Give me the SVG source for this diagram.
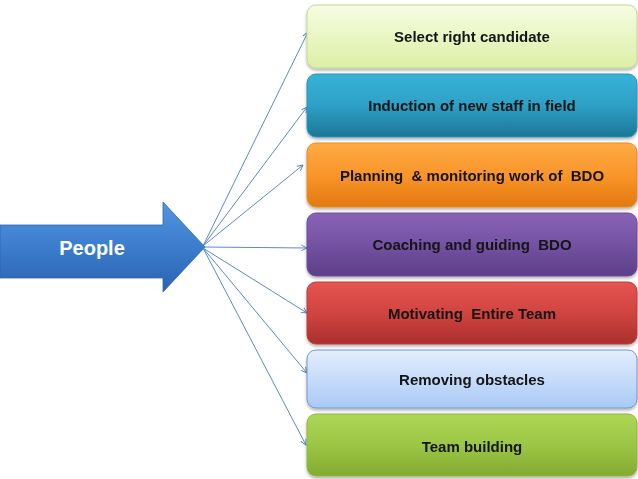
<svg xmlns="http://www.w3.org/2000/svg" width="638" height="479" viewBox="0 0 638 479">
<defs>
<style>
.lbl{font-family:"Liberation Sans",Arial,sans-serif;font-weight:bold;font-size:15px;fill:#141414;text-anchor:middle;white-space:pre}
.con{stroke:#4a7ebb;stroke-width:0.9;fill:none;marker-end:url(#ah)}
.box{stroke-width:1}
</style>
<marker id="ah" viewBox="0 0 10 10" refX="9" refY="5" markerWidth="7" markerHeight="7" markerUnits="userSpaceOnUse" orient="auto">
<path d="M1,1 L9,5 L1,9" fill="none" stroke="#4a7ebb" stroke-width="1.3"/>
</marker>
<filter id="sh" x="-5%" y="-10%" width="110%" height="130%">
<feDropShadow dx="0" dy="2" stdDeviation="1.5" flood-color="#000" flood-opacity="0.3"/>
</filter>
<linearGradient id="g1" x1="0" y1="0" x2="0" y2="1"><stop offset="0" stop-color="#f7fde2"/><stop offset="1" stop-color="#dcefa6"/></linearGradient>
<linearGradient id="g2" x1="0" y1="0" x2="0" y2="1"><stop offset="0" stop-color="#37b2d8"/><stop offset="0.5" stop-color="#2ea0c6"/><stop offset="1" stop-color="#1c7696"/></linearGradient>
<linearGradient id="g3" x1="0" y1="0" x2="0" y2="1"><stop offset="0" stop-color="#ffab45"/><stop offset="0.5" stop-color="#f9952a"/><stop offset="1" stop-color="#e27a10"/></linearGradient>
<linearGradient id="g4" x1="0" y1="0" x2="0" y2="1"><stop offset="0" stop-color="#8a62b8"/><stop offset="0.5" stop-color="#7452a3"/><stop offset="1" stop-color="#5c3e88"/></linearGradient>
<linearGradient id="g5" x1="0" y1="0" x2="0" y2="1"><stop offset="0" stop-color="#e55450"/><stop offset="0.5" stop-color="#d04440"/><stop offset="1" stop-color="#aa2f2c"/></linearGradient>
<linearGradient id="g6" x1="0" y1="0" x2="0" y2="1"><stop offset="0" stop-color="#e4eefd"/><stop offset="1" stop-color="#a9c9f5"/></linearGradient>
<linearGradient id="g7" x1="0" y1="0" x2="0" y2="1"><stop offset="0" stop-color="#acd655"/><stop offset="0.5" stop-color="#9cc645"/><stop offset="1" stop-color="#83aa30"/></linearGradient>
<linearGradient id="ga" x1="0" y1="0" x2="0" y2="1"><stop offset="0" stop-color="#5596e0"/><stop offset="0.5" stop-color="#3b7ccd"/><stop offset="1" stop-color="#2b63b0"/></linearGradient>
</defs>
<g id="people">
<path d="M0,225 L163,225 L163,202 L205,247 L163,292 L163,278 L0,278 Z" fill="url(#ga)" stroke="#2f66ad" stroke-width="0.8"/>
<text x="92" y="255" style="font-family:'Liberation Sans',Arial,sans-serif;font-weight:bold;font-size:20px;fill:#ffffff;text-anchor:middle">People</text>
</g>
<g id="connectors">
<line class="con" x1="203" y1="246" x2="308" y2="32"/>
<line class="con" x1="203" y1="246" x2="307" y2="107"/>
<line class="con" x1="203" y1="246" x2="303" y2="165"/>
<line class="con" x1="203" y1="247" x2="307" y2="248"/>
<line class="con" x1="203" y1="248" x2="307" y2="313"/>
<line class="con" x1="203" y1="248" x2="307" y2="373"/>
<line class="con" x1="203" y1="248" x2="306" y2="445"/>
</g>
<g id="n1" filter="url(#sh)">
<rect class="box" x="307" y="5" width="330" height="63" rx="9" fill="url(#g1)" stroke="#c3d88f"/>
<text class="lbl" x="472" y="42">Select right candidate</text>
</g>
<g id="n2" filter="url(#sh)">
<rect class="box" x="307" y="74" width="330" height="63" rx="9" fill="url(#g2)" stroke="#2a93b8"/>
<text class="lbl" x="472" y="111">Induction of new staff in field</text>
</g>
<g id="n3" filter="url(#sh)">
<rect class="box" x="307" y="143" width="330" height="64" rx="9" fill="url(#g3)" stroke="#e98b22"/>
<text class="lbl" x="472" y="181">Planning  &amp; monitoring work of  BDO</text>
</g>
<g id="n4" filter="url(#sh)">
<rect class="box" x="307" y="213" width="330" height="63" rx="9" fill="url(#g4)" stroke="#6d4b9c"/>
<text class="lbl" x="472" y="250">Coaching and guiding  BDO</text>
</g>
<g id="n5" filter="url(#sh)">
<rect class="box" x="307" y="282" width="330" height="62" rx="9" fill="url(#g5)" stroke="#c03c39"/>
<text class="lbl" x="472" y="319">Motivating  Entire Team</text>
</g>
<g id="n6" filter="url(#sh)">
<rect class="box" x="307" y="350" width="330" height="58" rx="9" fill="url(#g6)" stroke="#6e98d2"/>
<text class="lbl" x="472" y="385">Removing obstacles</text>
</g>
<g id="n7" filter="url(#sh)">
<rect class="box" x="307" y="414" width="330" height="62" rx="9" fill="url(#g7)" stroke="#8db83a"/>
<text class="lbl" x="472" y="452">Team building</text>
</g>
</svg>
